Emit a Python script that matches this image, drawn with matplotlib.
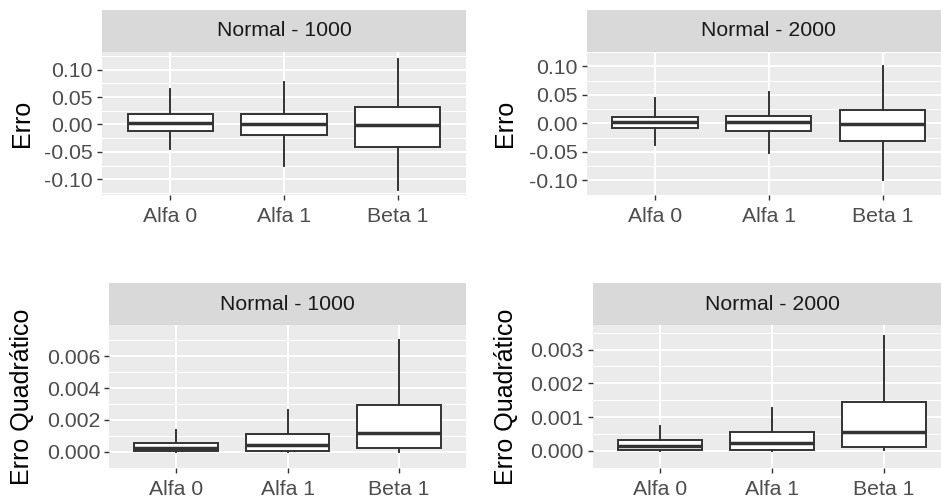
import matplotlib
matplotlib.use("Agg")
import matplotlib.pyplot as plt

plt.rcParams['font.family'] = ['Liberation Sans', 'DejaVu Sans']
plt.rcParams['axes.unicode_minus'] = False

# categorias e estatisticas dos boxplots
categorias = ["Alfa 0", "Alfa 1", "Beta 1"]

erro_1000_lo = [-0.045, -0.075, -0.119]
erro_1000_q1 = [-0.012, -0.019, -0.041]
erro_1000_med = [0.003, 0.001, -0.001]
erro_1000_q3 = [0.019, 0.019, 0.032]
erro_1000_hi = [0.065, 0.078, 0.120]

erro_2000_lo = [-0.038, -0.052, -0.0995]
erro_2000_q1 = [-0.0077, -0.0138, -0.032]
erro_2000_med = [0.002, 0.0015, -0.001]
erro_2000_q3 = [0.0108, 0.0133, 0.024]
erro_2000_hi = [0.044, 0.055, 0.1005]

eq_1000_lo = [0.0, 0.0, 0.00001]
eq_1000_q1 = [0.00006, 0.00006, 0.00025]
eq_1000_med = [0.00023, 0.00044, 0.00115]
eq_1000_q3 = [0.00057, 0.00109, 0.00297]
eq_1000_hi = [0.0014, 0.00262, 0.00705]

eq_2000_lo = [0.0, 0.0, 0.00001]
eq_2000_q1 = [0.00003, 0.00003, 0.00012]
eq_2000_med = [0.00014, 0.00022, 0.00057]
eq_2000_q3 = [0.00032, 0.00056, 0.00144]
eq_2000_hi = [0.00074, 0.00128, 0.00339]

ticks_erro_1000 = [-0.10, -0.05, 0.00, 0.05, 0.10]
ticks_erro_2000 = [-0.10, -0.05, 0.00, 0.05, 0.10]
ticks_eq_1000 = [0.000, 0.002, 0.004, 0.006]
ticks_eq_2000 = [0.000, 0.001, 0.002, 0.003]

W, H = 941, 503
fig = plt.figure(figsize=(W / 100, H / 100), dpi=100)


def painel(px, titulo, ylabel, ylabel_x, stats, ticks, fmt, ylim):
    # px = (esquerda, topo, direita, base) do painel em pixels
    l, t, r, b = px
    ax = fig.add_axes([l / W, 1 - b / H, (r - l) / W, (b - t) / H])
    ax.set_facecolor('#EBEBEB')
    for s in ax.spines.values():
        s.set_visible(False)

    lo, q1, med, q3, hi = stats
    bxs = []
    for i in range(len(categorias)):
        bxs.append({'whislo': lo[i], 'q1': q1[i], 'med': med[i],
                    'q3': q3[i], 'whishi': hi[i], 'fliers': []})
    ax.bxp(bxs, positions=[1, 2, 3], widths=0.75, showcaps=False,
           showfliers=False, patch_artist=True,
           boxprops=dict(facecolor='white', edgecolor='#333333', linewidth=1.4),
           whiskerprops=dict(color='#333333', linewidth=1.4),
           medianprops=dict(color='#333333', linewidth=2.5, solid_capstyle='butt'),
           zorder=3)

    ax.set_xlim(0.4, 3.6)
    ax.set_ylim(*ylim)
    ax.set_xticks([1, 2, 3])
    ax.set_xticklabels(categorias)
    ax.set_yticks(ticks)
    ax.set_yticklabels([fmt % v for v in ticks])
    passo = ticks[1] - ticks[0]
    menores = [ticks[0] - passo / 2] + [v + passo / 2 for v in ticks]
    ax.set_yticks(menores, minor=True)

    ax.grid(True, which='major', color='white', linewidth=1.4, zorder=0)
    ax.grid(True, which='minor', axis='y', color='white', linewidth=0.7, zorder=0)
    ax.set_axisbelow(True)
    ax.tick_params(which='major', length=3.6, width=1.0, color='#333333',
                   labelsize=15.3, labelcolor='#4D4D4D', pad=3)
    ax.tick_params(axis='x', which='major', pad=5.5)
    ax.tick_params(which='minor', length=0)

    # faixa do facet
    st = fig.add_axes([l / W, 1 - t / H, (r - l) / W, 42 / H])
    st.set_facecolor('#D9D9D9')
    st.set_xticks([])
    st.set_yticks([])
    for s in st.spines.values():
        s.set_visible(False)
    st.text(0.5, 0.5, titulo, ha='center', va='center', fontsize=15.3,
            color='#1A1A1A', transform=st.transAxes)

    fig.text(ylabel_x / W, 1 - (t + b) / 2 / H, ylabel, rotation=90,
             ha='center', va='center', fontsize=18, color='black')
    return ax


painel((102, 52, 466, 194.5), "Normal - 1000", "Erro", 22,
       (erro_1000_lo, erro_1000_q1, erro_1000_med, erro_1000_q3, erro_1000_hi),
       ticks_erro_1000, "%.2f", (-0.128, 0.1325))
painel((586.5, 52, 951, 194.5), "Normal - 2000", "Erro", 505,
       (erro_2000_lo, erro_2000_q1, erro_2000_med, erro_2000_q3, erro_2000_hi),
       ticks_erro_2000, "%.2f", (-0.1095, 0.1105))
painel((109.3, 325, 466, 467.7), "Normal - 1000", "Erro Quadrático", 22,
       (eq_1000_lo, eq_1000_q1, eq_1000_med, eq_1000_q3, eq_1000_hi),
       ticks_eq_1000, "%.3f", (-0.00025, 0.00797))
painel((593, 325, 951, 467.7), "Normal - 2000", "Erro Quadrático", 506,
       (eq_2000_lo, eq_2000_q1, eq_2000_med, eq_2000_q3, eq_2000_hi),
       ticks_eq_2000, "%.3f", (-0.00012, 0.00373))

fig.savefig('out.png', dpi=100, facecolor='white')
